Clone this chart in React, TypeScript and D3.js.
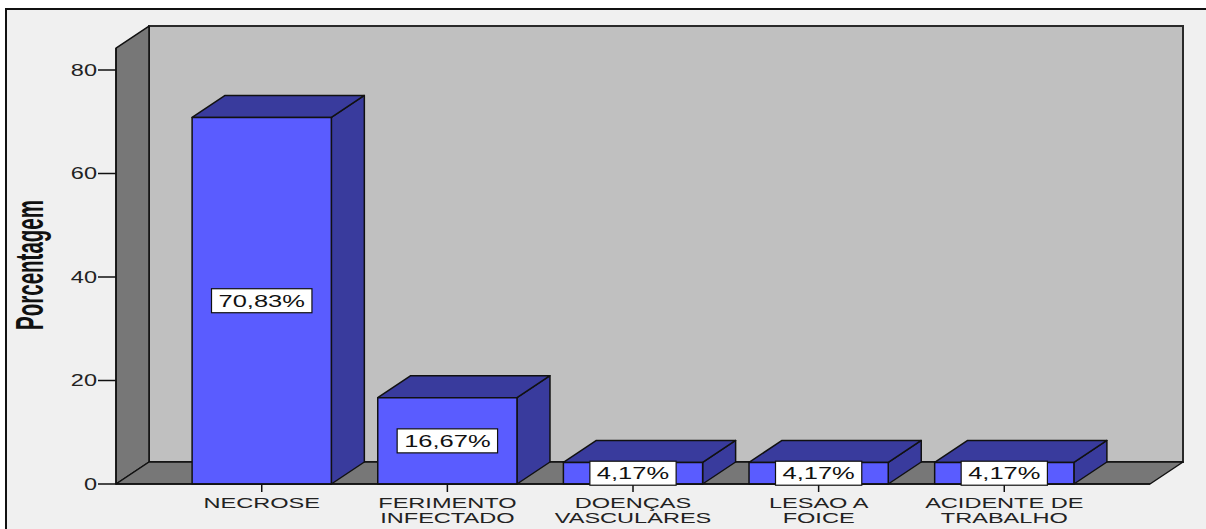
import React, { useEffect, useRef } from "react";
import * as d3 from "d3";

const categories = ["NECROSE", "FERIMENTO INFECTADO", "DOENÇAS VASCULARES", "LESAO A FOICE", "ACIDENTE DE TRABALHO"];
const categoryLines = [["NECROSE"], ["FERIMENTO", "INFECTADO"], ["DOENÇAS", "VASCULARES"], ["LESAO A", "FOICE"], ["ACIDENTE DE", "TRABALHO"]];
const values = [70.83, 16.67, 4.17, 4.17, 4.17];
const yTicks = [0, 20, 40, 60, 80];
const yTitle = "Porcentagem";

const W = 1206;
const H = 529;

export default function App() {
  const ref = useRef<SVGSVGElement | null>(null);

  useEffect(() => {
    const svg = d3.select(ref.current);
    svg.selectAll("*").remove();

    const font = "'Liberation Sans', Arial, sans-serif";
    const sx = 1.47;
    const dx = 33, dy = 22;
    const y = d3.scaleLinear().domain([0, 80]).range([484, 70]);
    const x = d3.scaleBand<string>().domain(categories).range([116, 1150]).paddingInner(0.25).paddingOuter(0.41);
    const y0 = y(0);
    const yTop = y(84.25);
    const xL = 116, xR = 1150;

    // outer frame
    svg.append("rect").attr("x", 0).attr("y", 0).attr("width", W).attr("height", H).attr("fill", "#ffffff");
    svg.append("rect").attr("x", 6).attr("y", 9).attr("width", 1220).attr("height", 560)
      .attr("fill", "#f0f0f0").attr("stroke", "#111").attr("stroke-width", 2);

    // back wall
    svg.append("rect").attr("x", xL + dx).attr("y", yTop - dy).attr("width", xR - xL).attr("height", y0 - yTop)
      .attr("fill", "#c0c0c0").attr("stroke", "#2a2a2a").attr("stroke-width", 2);
    // left wall
    svg.append("polygon")
      .attr("points", [[xL, yTop], [xL + dx, yTop - dy], [xL + dx, y0 - dy], [xL, y0]].map(p => p.join(",")).join(" "))
      .attr("fill", "#777777").attr("stroke", "#111").attr("stroke-width", 1.5).attr("stroke-linejoin", "round");
    // floor
    svg.append("polygon")
      .attr("points", [[xL, y0], [xL + dx, y0 - dy], [xR + dx, y0 - dy], [xR, y0]].map(p => p.join(",")).join(" "))
      .attr("fill", "#777777").attr("stroke", "#111").attr("stroke-width", 1.5).attr("stroke-linejoin", "round");

    // y ticks
    const yt = svg.append("g");
    yTicks.forEach(t => {
      yt.append("line").attr("x1", 98).attr("x2", xL).attr("y1", y(t)).attr("y2", y(t)).attr("stroke", "#111").attr("stroke-width", 1.5);
      yt.append("text").attr("transform", `translate(97,${y(t)}) scale(${sx},1)`)
        .attr("text-anchor", "end").attr("dy", "0.35em").attr("font-family", font).attr("font-size", 16).attr("fill", "#222")
        .text(String(t));
    });
    // y title
    svg.append("text").attr("transform", `translate(43,265) rotate(-90) scale(1,1.85)`)
      .attr("text-anchor", "middle").attr("font-family", font).attr("font-weight", "bold").attr("font-size", 20.5).attr("fill", "#111")
      .text(yTitle);

    // bars
    const bars = svg.append("g");
    categories.forEach((c, i) => {
      const x0 = x(c)!;
      const x1 = x0 + x.bandwidth();
      const yv = y(values[i]);
      const g = bars.append("g").attr("stroke", "#111").attr("stroke-width", 1.5).attr("stroke-linejoin", "round");
      g.append("polygon")
        .attr("points", [[x1, yv], [x1 + dx, yv - dy], [x1 + dx, y0 - dy], [x1, y0]].map(p => p.join(",")).join(" "))
        .attr("fill", "#393b9d");
      g.append("polygon")
        .attr("points", [[x0, yv], [x0 + dx, yv - dy], [x1 + dx, yv - dy], [x1, yv]].map(p => p.join(",")).join(" "))
        .attr("fill", "#393b9d");
      g.append("rect").attr("x", x0).attr("y", yv).attr("width", x1 - x0).attr("height", y0 - yv).attr("fill", "#5a5cff");
    });

    // floor front edge / axis line
    svg.append("line").attr("x1", xL).attr("x2", xR).attr("y1", y0).attr("y2", y0).attr("stroke", "#111").attr("stroke-width", 1.5);
    svg.append("line").attr("x1", xL).attr("x2", xL).attr("y1", yTop).attr("y2", y0).attr("stroke", "#111").attr("stroke-width", 1.5);

    // x ticks and labels
    categories.forEach((c, i) => {
      const cx = x(c)! + x.bandwidth() / 2;
      svg.append("line").attr("x1", cx).attr("x2", cx).attr("y1", y0).attr("y2", y0 + 8).attr("stroke", "#111").attr("stroke-width", 1.5);
      categoryLines[i].forEach((ln, j) => {
        svg.append("text").attr("transform", `translate(${cx},${507.5 + j * 15}) scale(1.55,1)`)
          .attr("text-anchor", "middle").attr("font-family", font).attr("font-size", 15.2).attr("fill", "#222")
          .text(ln);
      });
    });

    // value labels
    const fmt = d3.format(".2f");
    categories.forEach((c, i) => {
      const cx = x(c)! + x.bandwidth() / 2;
      const cy = (y(values[i]) + y0) / 2;
      const lg = svg.append("g");
      const rect = lg.append("rect");
      const txt = lg.append("text").attr("transform", `translate(${cx},${cy}) scale(1.5,1)`)
        .attr("text-anchor", "middle").attr("dy", "0.36em").attr("font-family", font).attr("font-size", 17).attr("fill", "#111")
        .text(fmt(values[i]).replace(".", ",") + "%");
      const bw = (txt.node() as SVGTextElement).getBBox().width * 1.5 + 14;
      rect.attr("x", cx - bw / 2).attr("y", cy - 12).attr("width", bw).attr("height", 24)
        .attr("fill", "#ffffff").attr("stroke", "#111").attr("stroke-width", 1.2);
    });
  }, []);

  return (
    <div style={{ position: "absolute", left: 0, top: 0, width: W, height: H }}>
      <svg ref={ref} width={W} height={H} style={{ display: "block" }} />
    </div>
  );
}
